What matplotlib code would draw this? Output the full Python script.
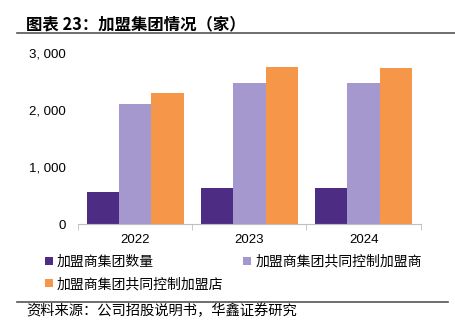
import matplotlib.pyplot as plt
import numpy as np
from matplotlib.ticker import FuncFormatter
from matplotlib.lines import Line2D

plt.rcParams['font.family'] = ['Noto Sans CJK SC', 'DejaVu Sans']

# data
YEARS = ['2022', '2023', '2024']
GROUP_COUNT = [561, 637, 632]
JOINT_FRANCHISEES = [2110, 2479, 2474]
JOINT_STORES = [2298, 2754, 2747]
SERIES_NAMES = ['加盟商集团数量', '加盟商集团共同控制加盟商', '加盟商集团共同控制加盟店']
COLORS = ['#4D2D84', '#A598CE', '#F69648']

TITLE = '图表 23：加盟集团情况（家）'
SOURCE = '资料来源：公司招股说明书，华鑫证券研究'


def thousands(x, pos):
    return '{:,.0f}'.format(x).replace(',', ', ')


fig = plt.figure(figsize=(4.55, 3.24), dpi=100)
ax = fig.add_axes([0.1714, 0.3077, 0.7532, 0.5278])

x = np.arange(len(YEARS))
width = 0.283
series = [GROUP_COUNT, JOINT_FRANCHISEES, JOINT_STORES]
for i, vals in enumerate(series):
    ax.bar(x + (i - 1) * width, vals, width, color=COLORS[i], label=SERIES_NAMES[i])

ax.set_xlim(-0.5, len(YEARS) - 0.5)
ax.set_ylim(0, 3000)
ax.set_yticks([0, 1000, 2000, 3000])
ax.yaxis.set_major_formatter(FuncFormatter(thousands))
ax.set_xticks(x)
ax.set_xticklabels(YEARS)
ax.set_xticks([-0.5, 0.5, 1.5, 2.5], minor=True)

for s in ['top', 'right', 'left']:
    ax.spines[s].set_visible(False)
ax.spines['bottom'].set_color('#BFBFBF')
ax.tick_params(axis='y', length=0, labelsize=9.5, pad=9)
ax.tick_params(axis='x', which='major', length=0, labelsize=9.5, pad=7)
ax.tick_params(axis='x', which='minor', length=4, color='#BFBFBF', direction='out')
for lbl in ax.get_yticklabels() + ax.get_xticklabels():
    lbl.set_fontfamily(['Liberation Sans', 'DejaVu Sans'])

# title and rules
fig.text(0.057, 0.926, TITLE, fontsize=11.8, fontweight='bold', va='center', ha='left')
fig.add_artist(Line2D([0.037, 1.0], [0.898, 0.898], color='#555555', lw=1.2))
fig.add_artist(Line2D([0.037, 0.985], [0.069, 0.069], color='#555555', lw=1.2))
fig.text(0.057, 0.040, SOURCE, fontsize=10.3, va='center', ha='left')

# legend, filled row by row
handles, labels = ax.get_legend_handles_labels()
order = [0, 2, 1]
fig.legend([handles[i] for i in order], [labels[i] for i in order],
           loc='upper left', bbox_to_anchor=(0.099, 0.214),
           ncol=2, frameon=False, fontsize=10, handlelength=0.55, handleheight=0.55,
           handletextpad=0.3, columnspacing=1.45, labelspacing=0.6,
           borderaxespad=0, borderpad=0)

fig.savefig('out.png', dpi=100)
